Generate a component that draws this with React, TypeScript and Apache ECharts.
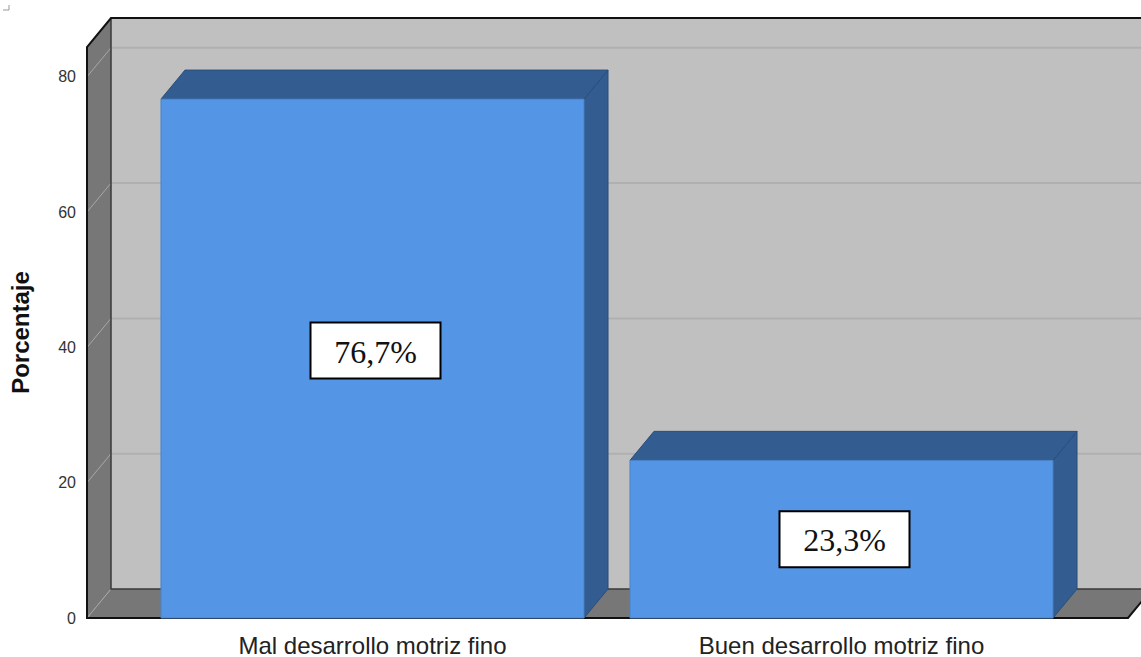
import React, { useEffect, useRef } from "react";
import * as echarts from "echarts";

const categories = ["Mal desarrollo motriz fino", "Buen desarrollo motriz fino"];
const percentages = [76.7, 23.3];
const valueLabels = ["76,7%", "23,3%"];
const yTicks = [0, 20, 40, 60, 80];
const yMax = 84.4;

const DX = 24;
const DY = -29;

export default function App() {
  const ref = useRef<HTMLDivElement>(null);
  useEffect(() => {
    if (!ref.current) return;
    const chart = echarts.init(ref.current, null, { renderer: "svg" });

    const renderWalls = (params: any, api: any) => {
      const cs = params.coordSys;
      const X0 = cs.x - 51;
      const XR = cs.x + cs.width + 52;
      const YT = cs.y;
      const YB = cs.y + cs.height;
      const children: any[] = [];
      children.push({
        type: "rect",
        shape: { x: X0 + DX, y: YT + DY, width: 1200, height: YB - YT },
        style: { fill: "#c0c0c0" },
      });
      children.push({
        type: "polygon",
        shape: { points: [[X0, YT], [X0 + DX, YT + DY], [X0 + DX, YB + DY], [X0, YB]] },
        style: { fill: "#777777" },
      });
      children.push({
        type: "polygon",
        shape: { points: [[X0, YB], [X0 + DX, YB + DY], [XR + DX, YB + DY], [XR, YB]] },
        style: { fill: "#777777" },
      });
      yTicks.forEach((t) => {
        const yf = api.coord([0, t])[1];
        children.push({
          type: "line",
          shape: { x1: X0, y1: yf, x2: X0 + DX, y2: yf + DY },
          style: { stroke: "#a8a8a8", lineWidth: 1 },
        });
        if (t > 0) {
          children.push({
            type: "line",
            shape: { x1: X0 + DX, y1: yf + DY, x2: 1200, y2: yf + DY },
            style: { stroke: "#b0b0b0", lineWidth: 2 },
          });
        }
      });
      children.push({
        type: "polyline",
        shape: { points: [[X0 + DX, YT + DY], [X0 + DX, YB + DY], [XR + DX, YB + DY]] },
        style: { stroke: "#3a3a3a", lineWidth: 1.5, fill: "none" },
      });
      children.push({
        type: "polyline",
        shape: { points: [[1200, YT + DY], [X0 + DX, YT + DY], [X0, YT], [X0, YB], [XR, YB], [XR + DX, YB + DY]] },
        style: { stroke: "#111111", lineWidth: 2, fill: "none" },
      });
      return { type: "group", children };
    };

    const renderBar = (params: any, api: any) => {
      const idx = api.value(0);
      const val = api.value(1);
      const top = api.coord([idx, val]);
      const base = api.coord([idx, 0]);
      const band = api.size([1, 0])[0];
      const w = band * 0.902;
      const x0 = top[0] - w / 2;
      const x1 = top[0] + w / 2;
      const yt = top[1];
      const yb = base[1];
      const front = "#5595e5";
      const dark = "#335c90";
      const edge = "#2b4e7c";
      const midY = (yt + yb) / 2 + (params.dataIndex === 0 ? -8 : 0);
      const cx = top[0] + 3;
      return {
        type: "group",
        children: [
          {
            type: "polygon",
            shape: { points: [[x1, yt], [x1 + DX, yt + DY], [x1 + DX, yb + DY], [x1, yb]] },
            style: { fill: dark, stroke: edge, lineWidth: 1 },
          },
          {
            type: "polygon",
            shape: { points: [[x0, yt], [x1, yt], [x1 + DX, yt + DY], [x0 + DX, yt + DY]] },
            style: { fill: dark, stroke: edge, lineWidth: 1 },
          },
          {
            type: "rect",
            shape: { x: x0, y: yt, width: w, height: yb - yt },
            style: { fill: front, stroke: "#4a82c8", lineWidth: 1 },
          },
          {
            type: "rect",
            shape: { x: cx - 65, y: midY - 28, width: 130, height: 56 },
            style: { fill: "#ffffff", stroke: "#000000", lineWidth: 2 },
          },
          {
            type: "text",
            style: {
              text: valueLabels[params.dataIndex],
              x: cx,
              y: midY + 1,
              align: "center",
              verticalAlign: "middle",
              font: "32px 'Liberation Serif', 'Times New Roman', serif",
              fill: "#111111",
            },
          },
        ],
      };
    };

    chart.setOption({
      animation: false,
      grid: { left: 138, right: 65, top: 47, bottom: 36 },
      xAxis: {
        type: "category",
        data: categories,
        axisLine: { show: false },
        axisTick: { show: false },
        axisLabel: {
          margin: 15,
          fontSize: 24,
          color: "#222222",
          fontFamily: "'Liberation Sans', Arial, sans-serif",
        },
      },
      yAxis: {
        type: "value",
        min: 0,
        max: yMax,
        interval: 20,
        name: "Porcentaje",
        nameLocation: "middle",
        nameGap: 106,
        nameTextStyle: {
          fontSize: 24,
          fontWeight: "bold",
          color: "#111111",
          fontFamily: "'Liberation Sans', Arial, sans-serif",
        },
        axisLine: { show: false },
        axisTick: { show: false },
        splitLine: { show: false },
        axisLabel: {
          margin: 62,
          fontSize: 16,
          color: "#333333",
          showMaxLabel: false,
          fontFamily: "'Liberation Sans', Arial, sans-serif",
        },
      },
      graphic: [
        {
          type: "polyline",
          shape: { points: [[3, 10], [9, 10], [9, 5]] },
          style: { stroke: "#999999", lineWidth: 1, fill: "none" },
        },
      ],
      series: [
        {
          type: "custom",
          renderItem: renderWalls,
          data: [[0, 0]],
          clip: false,
          z: 1,
          silent: true,
        },
        {
          type: "custom",
          renderItem: renderBar,
          data: percentages.map((v, i) => [i, v]),
          clip: false,
          z: 2,
        },
      ],
    });
    return () => chart.dispose();
  }, []);
  return (
    <div
      ref={ref}
      style={{ position: "fixed", left: 0, top: 0, width: 1141, height: 657, background: "#ffffff" }}
    />
  );
}
